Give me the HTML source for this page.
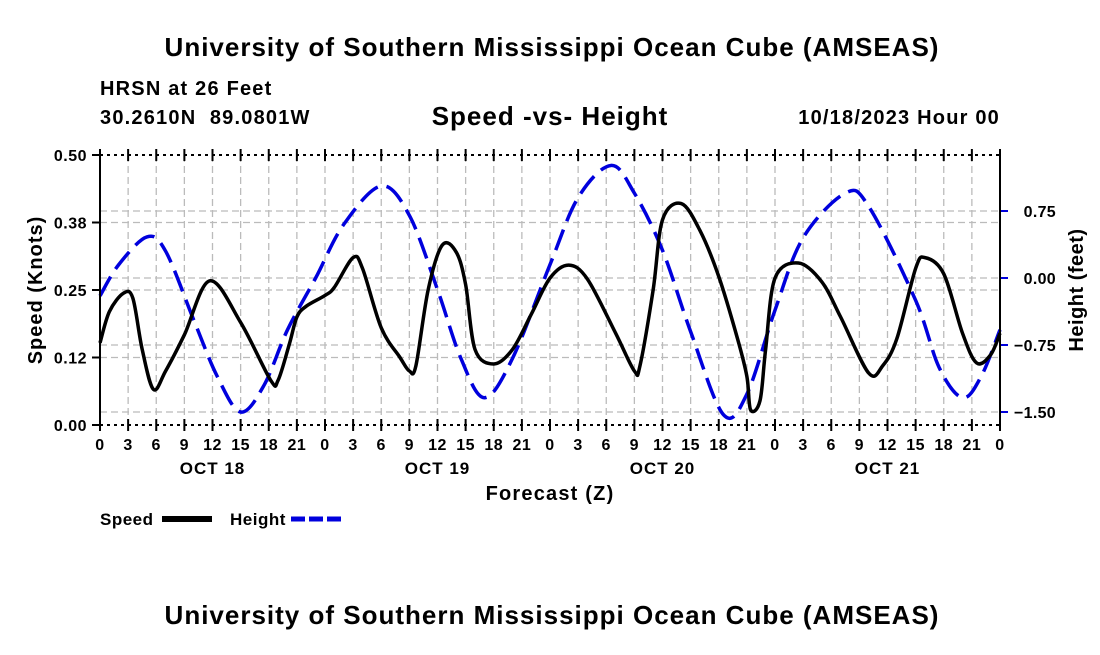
<!DOCTYPE html>
<html><head><meta charset="utf-8"><style>
body{margin:0;background:#fff}
svg text{font-family:"Liberation Sans",sans-serif;font-weight:bold;fill:#000;white-space:pre}
</style></head><body>
<svg id="chart" width="1100" height="650" viewBox="0 0 1100 650">
<rect width="1100" height="650" fill="#fff"/>
<text x="552" y="56" font-size="26" letter-spacing="1" text-anchor="middle">University of Southern Mississippi Ocean Cube (AMSEAS)</text>
<text x="100" y="95" font-size="20" letter-spacing="1.2">HRSN at 26 Feet</text>
<text x="100" y="124" font-size="20" letter-spacing="1.2">30.2610N  89.0801W</text>
<text x="550" y="125" font-size="26" letter-spacing="1" text-anchor="middle">Speed -vs- Height</text>
<text x="1000" y="124" font-size="20" letter-spacing="1.2" text-anchor="end">10/18/2023 Hour 00</text>
<g id="grid"></g>
<g id="marks"></g>
<g id="axes"></g>
<text transform="translate(42,290) rotate(-90)" font-size="20" letter-spacing="1" text-anchor="middle">Speed (Knots)</text>
<text transform="translate(1083,290) rotate(-90)" font-size="20" letter-spacing="0.5" text-anchor="middle">Height (feet)</text>
<text x="550" y="500" font-size="20" letter-spacing="1.2" text-anchor="middle">Forecast (Z)</text>
<g>
<text x="100" y="525" font-size="17" letter-spacing="0.5">Speed</text>
<rect x="162" y="516" width="50" height="6" fill="#000"/>
<text x="230" y="525" font-size="17" letter-spacing="0.5">Height</text>
<line x1="291" y1="519" x2="343" y2="519" stroke="#0000dd" stroke-width="5" stroke-dasharray="14,4"/>
</g>
<text x="552" y="624" font-size="26" letter-spacing="1" text-anchor="middle">University of Southern Mississippi Ocean Cube (AMSEAS)</text>
</svg>
<script>
const speedHours=[0,1,2.5,3.5,4.5,5.7,7,9,11.7,15,18.2,19,20.2,21,22,24,25,27,28,30,32,33,33.7,35,36.5,38,39,40,42,44,46,48,50,52,55,57,57.6,59,60,62,64,66,68,69,69.4,70.4,71,72,74.5,77,79,82,83.5,85,87,88,90,92,93.5,95,96];
const speedVals=[0.152,0.21,0.244,0.235,0.14,0.066,0.1,0.167,0.267,0.19,0.083,0.083,0.15,0.2,0.22,0.24,0.255,0.31,0.29,0.18,0.125,0.1,0.11,0.25,0.333,0.32,0.26,0.14,0.113,0.14,0.205,0.272,0.296,0.27,0.17,0.1,0.11,0.25,0.38,0.41,0.36,0.275,0.16,0.09,0.028,0.045,0.14,0.272,0.30,0.265,0.2,0.096,0.11,0.16,0.29,0.31,0.28,0.17,0.115,0.13,0.17];
const heightHours=[0,2,5,7,10,12.5,15,17.5,20,23,26,30,33,36,38.5,41,44,48,51,54.5,57,60,63,66.5,69,72,75,79.5,82,87,89.5,92,94,96];
const heightVals=[-0.2,0.15,0.46,0.3,-0.47,-1.1,-1.5,-1.2,-0.58,0.0,0.6,1.03,0.7,-0.13,-0.9,-1.34,-0.9,0.15,0.9,1.26,0.95,0.31,-0.6,-1.53,-1.3,-0.36,0.45,0.95,0.8,-0.25,-1.0,-1.34,-1.1,-0.58];
const speedTicks=[0,0.125,0.25,0.375,0.5];
const speedTickLabels=["0.00","0.12","0.25","0.38","0.50"];
const heightTicks=[0.75,0,-0.75,-1.5];
const heightTickLabels=["0.75","0.00","\u22120.75","\u22121.50"];
const hourLabels=["0","3","6","9","12","15","18","21"];
const dayLabels=["OCT 18","OCT 19","OCT 20","OCT 21"];

const L=100,R=1000,T=155,B=425;
const x=h=>L+h*(R-L)/96;
const yS=v=>B-v*(B-T)/0.5;
const yH=v=>278-v*89.33;
const NS="http://www.w3.org/2000/svg";
function mk(tag,attrs,parent){const e=document.createElementNS(NS,tag);for(const k in attrs)e.setAttribute(k,attrs[k]);parent.appendChild(e);return e;}
const grid=document.getElementById('grid'),marks=document.getElementById('marks'),axes=document.getElementById('axes');
for(let h=3;h<96;h+=3){const l=mk('line',{x1:x(h),x2:x(h),y1:T,y2:B,stroke:'#bbb','stroke-width':1.3,'stroke-dasharray':'7,4'},grid);

}
speedTicks.forEach((v,i)=>{if(v>0&&v<0.5){const l=mk('line',{x1:L,x2:R,y1:yS(v),y2:yS(v),stroke:'#bbb','stroke-width':1.3,'stroke-dasharray':'7,4'},grid);

}
const t=mk('text',{x:L-13,y:yS(v)+6,'font-size':16,'letter-spacing':0.5,'text-anchor':'end'},axes);t.textContent=speedTickLabels[i];


const tk=mk('line',{x1:L-8,x2:L,y1:yS(v),y2:yS(v),stroke:'#000','stroke-width':2},axes);

});
heightTicks.forEach((v,i)=>{const l=mk('line',{x1:L,x2:R,y1:yH(v),y2:yH(v),stroke:'#bbb','stroke-width':1.3,'stroke-dasharray':'7,4'},grid);


const tk=mk('line',{x1:R,x2:R+8,y1:yH(v),y2:yH(v),stroke:'#0000dd','stroke-width':2},axes);


const t=mk('text',{x:R+56,y:yH(v)+6,'font-size':16,'letter-spacing':0.3,'text-anchor':'end'},axes);t.textContent=heightTickLabels[i];

});
for(let h=0;h<=96;h+=3){const t=mk('text',{x:x(h),y:450,'font-size':16,'letter-spacing':0.5,'text-anchor':'middle'},axes);t.textContent=hourLabels[(h/3)%8];


[T,B].forEach(yy=>{const tk=mk('line',{x1:x(h),x2:x(h),y1:yy-6,y2:yy+6,stroke:'#000','stroke-width':2},axes);

});}
dayLabels.forEach((d,i)=>{const t=mk('text',{x:x(i*24+12),y:474,'font-size':17,'letter-spacing':1,'text-anchor':'middle'},axes);t.textContent=d;

});
function spline(px,py){let d=`M${px[0]},${py[0]}`;const n=px.length;
for(let i=0;i<n-1;i++){const p0=[px[Math.max(i-1,0)],py[Math.max(i-1,0)]],p1=[px[i],py[i]],p2=[px[i+1],py[i+1]],p3=[px[Math.min(i+2,n-1)],py[Math.min(i+2,n-1)]];
const c1=[p1[0]+(p2[0]-p0[0])/6,p1[1]+(p2[1]-p0[1])/6],c2=[p2[0]-(p3[0]-p1[0])/6,p2[1]-(p3[1]-p1[1])/6];
d+=`C${c1[0]},${c1[1]} ${c2[0]},${c2[1]} ${p2[0]},${p2[1]}`;}return d;}
const hp=mk('path',{d:spline(heightHours.map(x),heightVals.map(yH)),fill:'none',stroke:'#0000dd','stroke-width':3.5,'stroke-dasharray':'22,9'},marks);


const sp=mk('path',{d:spline(speedHours.map(x),speedVals.map(yS)),fill:'none',stroke:'#000','stroke-width':3.5},marks);


[[L,T,L,B,'none','left-axis'],[R,T,R,B,'none','right-axis'],[L,T,R,T,'3,4','top-axis'],[L,B,R,B,'3,4','bottom-axis']].forEach(a=>{
const l=mk('line',{x1:a[0],y1:a[1],x2:a[2],y2:a[3],stroke:'#000','stroke-width':2,'stroke-dasharray':a[4]},axes);

});
</script>
</body></html>
